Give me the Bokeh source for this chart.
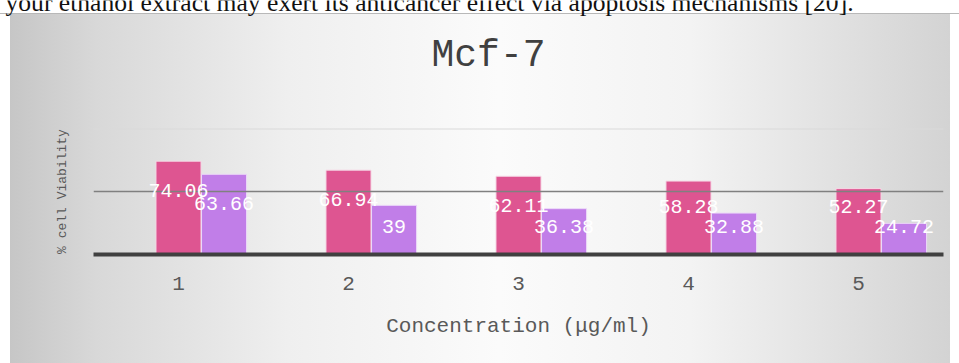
from bokeh.plotting import figure
from bokeh.models import Range1d, FixedTicker, Span, Label, ColumnDataSource, LabelSet
from bokeh.layouts import column
from bokeh.core.properties import value
from bokeh.embed import file_html
from bokeh.resources import INLINE

# ---- data ----
concentrations = ["1", "2", "3", "4", "5"]
viability_a = [74.06, 66.94, 62.11, 58.28, 52.27]   # pink series
viability_b = [63.66, 39, 36.38, 32.88, 24.72]       # purple series
y_gridlines = [50, 100]
chart_title = "Mcf-7"
x_title = "Concentration (\u03bcg/ml)"
y_title = "% cell Viability"
caption = "your ethanol extract may exert its anticancer effect via apoptosis mechanisms [20]."

PINK = "#DE5591"
PURPLE = "#C17EE8"
MONO = "Liberation Mono"

idx = list(range(1, len(concentrations) + 1))
bar_w = 0.265
offset_b = 0.268

SIDE_STRIPS = (
    "linear-gradient(#ffffff,#ffffff) top left / 10px 100% no-repeat,"
    "linear-gradient(#ffffff,#ffffff) top right / 9px 100% no-repeat,"
)
H_GRADIENT = ("linear-gradient(to right, #c4c4c4 0%, #d8d8d8 10%, #efefef 30%, "
              "#fbfbfb 52%, #f3f3f3 72%, #d2d2d2 100%)")

# ---- top part: page text above the chart (cut off, as in the scan) and chart title ----
HEAD_H = 128
cap = figure(width=959, height=HEAD_H, output_backend="svg", toolbar_location=None,
             x_range=Range1d(0, 959), y_range=Range1d(0, HEAD_H),
             min_border_left=0, min_border_right=0, min_border_top=0, min_border_bottom=0)
cap.axis.visible = False
cap.grid.visible = False
cap.outline_line_color = None
cap.background_fill_alpha = 0
cap.border_fill_alpha = 0
cap.styles = {
    "background": (
        "linear-gradient(#ffffff,#ffffff) top left / 100% 13px no-repeat,"
        "linear-gradient(#b8b8b8,#b8b8b8) 0 13px / 100% 1px no-repeat,"
        + SIDE_STRIPS + H_GRADIENT
    )
}
cap.add_layout(Label(x=5, y=HEAD_H - 2, text=caption, text_font="Liberation Serif",
                     text_font_size="25.6px", text_color="#111111",
                     text_align="left", text_baseline="alphabetic"))
cap.add_layout(Label(x=488, y=HEAD_H - 55, text=chart_title, text_font=MONO,
                     text_font_size="38px", text_color="#404040",
                     text_align="center", text_baseline="middle"))

# ---- chart ----
p = figure(width=959, height=363 - HEAD_H, output_backend="svg", toolbar_location=None,
           x_range=Range1d(0.5, 5.5), y_range=Range1d(0, 100),
           min_border_left=93, min_border_right=16, min_border_top=0, min_border_bottom=109)
p.outline_line_color = None
p.background_fill_alpha = 0
p.border_fill_alpha = 0
p.xgrid.visible = False
p.ygrid.visible = False
p.styles = {"background": SIDE_STRIPS + H_GRADIENT}

for fig in (cap, p):
    if "frame_align" in fig.properties():
        fig.frame_align = False

# gridlines
p.add_layout(Span(location=y_gridlines[0], dimension="width", line_color="#808080", line_width=1.5))
p.add_layout(Span(location=y_gridlines[1], dimension="width", line_color="#dadada", line_width=2))

src = ColumnDataSource(dict(
    xa=[i for i in idx],
    xb=[i + offset_b for i in idx],
    a=viability_a,
    b=viability_b,
    la=[f"{v:g}" for v in viability_a],
    lb=[f"{v:g}" for v in viability_b],
    ya=[max(v - 23.5, 38) for v in viability_a],
    yb=[max(v - 23.5, 22) for v in viability_b],
))

p.vbar(x="xa", top="a", bottom=0, width=bar_w, source=src, fill_color=PINK,
       line_color="#f6d9e6", line_width=1)
p.vbar(x="xb", top="b", bottom=0, width=bar_w, source=src, fill_color=PURPLE,
       line_color="#ecd9f8", line_width=1)

p.add_layout(LabelSet(x="xa", y="ya", text="la", source=src, text_color="white",
                      text_font=value(MONO), text_font_size="20px",
                      text_align="center", text_baseline="middle"))
p.add_layout(LabelSet(x="xb", y="yb", text="lb", source=src, text_color="white",
                      text_font=value(MONO), text_font_size="20px",
                      text_align="center", text_baseline="middle"))

# x axis
xa = p.xaxis[0]
xa.ticker = FixedTicker(ticks=idx)
xa.major_label_overrides = {i: c for i, c in zip(idx, concentrations)}
xa.major_label_text_font = MONO
xa.major_label_text_font_size = "21px"
xa.major_label_text_color = "#595959"
xa.major_label_standoff = 16
xa.major_tick_line_color = None
xa.minor_tick_line_color = None
xa.axis_line_color = "#404040"
xa.axis_line_width = 4
xa.axis_label = x_title
xa.axis_label_text_font = MONO
xa.axis_label_text_font_size = "21px"
xa.axis_label_text_font_style = "normal"
xa.axis_label_text_color = "#595959"
xa.axis_label_standoff = 22

# y axis (title sized so that it fits below the top of this figure)
ya = p.yaxis[0]
ya.ticker = FixedTicker(ticks=[])
ya.major_label_text_font_size = "0px"
ya.major_tick_line_color = None
ya.minor_tick_line_color = None
ya.axis_line_color = None
ya.axis_label = y_title
ya.axis_label_text_font = MONO
ya.axis_label_text_font_size = "13px"
ya.axis_label_text_font_style = "normal"
ya.axis_label_text_color = "#595959"
ya.axis_label_standoff = 24

layout = column(cap, p, spacing=0)
open("out.html", "w").write(file_html(layout, INLINE))
